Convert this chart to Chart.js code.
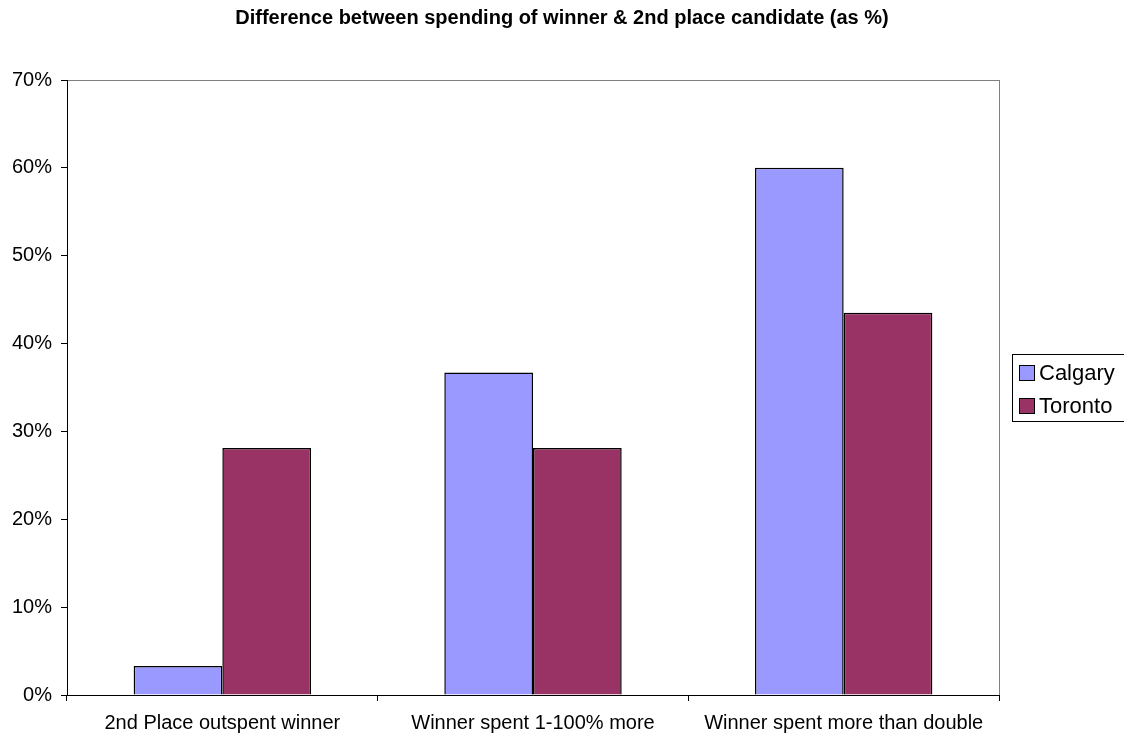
<!DOCTYPE html>
<html>
<head>
<meta charset="utf-8">
<script src="https://cdn.jsdelivr.net/npm/chart.js@4/dist/chart.umd.min.js"></script>
<style>
  html, body { margin: 0; padding: 0; background: #fff; }
  #wrap { width: 1124px; height: 738px; position: relative; }
</style>
</head>
<body>
<div id="wrap"><canvas id="chart"></canvas></div>
<script>
// Дані графіка
const chartTitle = 'Difference between spending of winner & 2nd place candidate (as %)';
const categories = ['2nd Place outspent winner', 'Winner spent 1-100% more', 'Winner spent more than double'];
const calgary = [3.3, 36.7, 60.0];
const toronto = [28.1, 28.1, 43.5];
const seriesNames = ['Calgary', 'Toronto'];
const seriesColors = ['#9999FF', '#993366'];

const FONT = 'Arial, "Liberation Sans", sans-serif';

// Заголовок, рамка області побудови та легенда справа
const decor = {
    id: 'decor',
    beforeDraw(chart) {
        const { ctx, chartArea: a } = chart;
        ctx.save();
        ctx.fillStyle = '#fff';
        ctx.fillRect(0, 0, chart.width, chart.height);
        ctx.strokeStyle = '#808080';
        ctx.lineWidth = 1;
        ctx.strokeRect(a.left + 0.5, a.top + 0.5, a.right - a.left, a.bottom - a.top);

        ctx.fillStyle = '#000';
        ctx.font = 'bold 20px ' + FONT;
        ctx.textAlign = 'center';
        ctx.textBaseline = 'middle';
        ctx.fillText(chartTitle, 562, 18);
        ctx.restore();
    },
    afterDraw(chart) {
        const { ctx } = chart;
        ctx.save();
        ctx.strokeStyle = '#000';
        ctx.lineWidth = 1;
        ctx.strokeRect(1012.5, 354.5, 130, 67);
        ctx.font = '22px ' + FONT;
        ctx.textAlign = 'left';
        ctx.textBaseline = 'middle';
        chart.data.datasets.forEach((ds, i) => {
            const y = 373 + i * 33;
            ctx.fillStyle = ds.backgroundColor;
            ctx.fillRect(1019.5, y - 7.5, 15, 15);
            ctx.strokeRect(1019.5, y - 7.5, 15, 15);
            ctx.fillStyle = '#000';
            ctx.fillText(ds.label, 1039, y + 1);
        });
        ctx.restore();
    }
};

new Chart(document.getElementById('chart'), {
    type: 'bar',
    data: {
        labels: categories,
        datasets: [
            { label: seriesNames[0], data: calgary, backgroundColor: seriesColors[0] },
            { label: seriesNames[1], data: toronto, backgroundColor: seriesColors[1] }
        ].map(d => Object.assign(d, {
            borderColor: '#000',
            borderWidth: 1.5,
            borderSkipped: 'bottom',
            categoryPercentage: 0.571,
            barPercentage: 1.0
        }))
    },
    options: {
        responsive: true,
        maintainAspectRatio: false,
        animation: false,
        layout: { padding: { top: 80, right: 125, left: 0, bottom: 0 } },
        plugins: {
            legend: { display: false },
            title: { display: false },
            tooltip: { enabled: false }
        },
        scales: {
            x: {
                afterFit: (s) => { s.height = 43; },
                grid: { display: true, drawOnChartArea: false, offset: true, tickLength: 6, color: '#000' },
                border: { color: '#000', width: 1 },
                ticks: { color: '#000', font: { family: FONT, size: 20 }, padding: 10, maxRotation: 0 }
            },
            y: {
                min: 0, max: 70,
                afterFit: (s) => { s.width = 67; },
                grid: { display: true, drawOnChartArea: false, tickLength: 6, color: '#000' },
                border: { color: '#000', width: 1 },
                ticks: {
                    stepSize: 10,
                    color: '#000',
                    font: { family: FONT, size: 20 },
                    padding: 9,
                    callback: (v) => v + '%'
                }
            }
        }
    },
    plugins: [decor]
});
</script>
</body>
</html>
